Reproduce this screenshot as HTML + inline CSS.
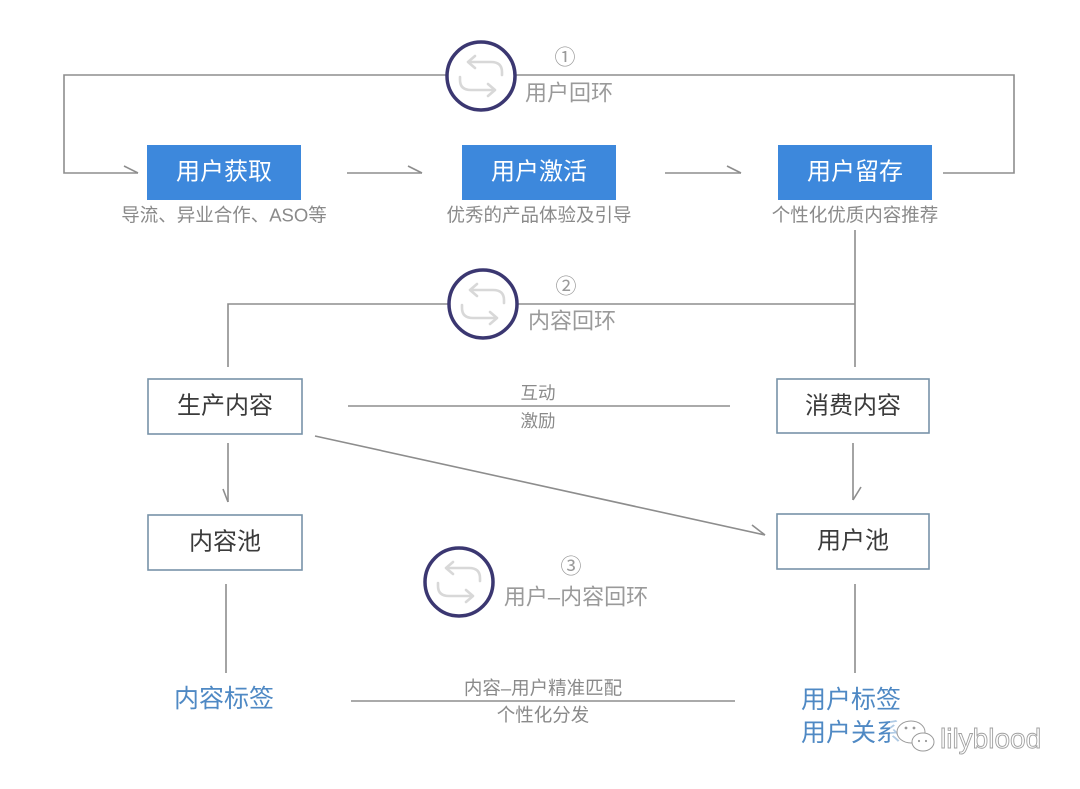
<!DOCTYPE html>
<html>
<head>
<meta charset="utf-8">
<style>
html,body{margin:0;padding:0;background:#ffffff;}
svg{display:block;}
text{font-family:"Liberation Sans","Noto Sans CJK SC",sans-serif;}
</style>
</head>
<body>
<svg width="1080" height="789" viewBox="0 0 1080 789" xmlns="http://www.w3.org/2000/svg">
<rect x="0" y="0" width="1080" height="789" fill="#ffffff"/>

<defs>
  <g id="loopicon" fill="none" stroke="#d8d8d8" stroke-width="2.6" stroke-linecap="round" stroke-linejoin="round">
    <path d="M -12 -14 L 10 -14 Q 21 -14 21 -4 L 21 -1"/>
    <path d="M -6 -20 L -13 -14 L -6 -8"/>
    <path d="M 13 14 L -10 14 Q -21 14 -21 4 L -21 1"/>
    <path d="M 7 8 L 14 14 L 7 20"/>
  </g>
</defs>

<g fill="none" stroke="#8d8d8d" stroke-width="1.6">
  <path d="M 138 173 L 64 173 L 64 75 L 1014 75 L 1014 173 L 943 173"/>
  <path d="M 124 166 L 138 173"/>
  <path d="M 347 173 L 422 173"/>
  <path d="M 408 166 L 422 173"/>
  <path d="M 665 173 L 741 173"/>
  <path d="M 727 166 L 741 173"/>
  <path d="M 855 230 L 855 367"/>
  <path d="M 228 367 L 228 304 L 855 304"/>
  <path d="M 348 406 L 730 406"/>
  <path d="M 228 443 L 228 502"/>
  <path d="M 223 489 L 228 502"/>
  <path d="M 853 443 L 853 500"/>
  <path d="M 861 487 L 853 500"/>
  <path d="M 315 436 L 765 535"/>
  <path d="M 752 525 L 765 535"/>
  <path d="M 226 584 L 226 673"/>
  <path d="M 855 584 L 855 673"/>
  <path d="M 351 701 L 735 701"/>
</g>

<rect x="147" y="145" width="154" height="55" fill="#3d88dc"/>
<rect x="462" y="145" width="154" height="55" fill="#3d88dc"/>
<rect x="778" y="145" width="154" height="55" fill="#3d88dc"/>
<g fill="#ffffff" font-size="24" text-anchor="middle" dominant-baseline="central">
  <text x="224" y="172">用户获取</text>
  <text x="539" y="172">用户激活</text>
  <text x="855" y="172">用户留存</text>
</g>
<g fill="#8a8a8a" font-size="18.5" text-anchor="middle" dominant-baseline="central">
  <text x="224" y="215">导流、异业合作、ASO等</text>
  <text x="539" y="215">优秀的产品体验及引导</text>
  <text x="855" y="215">个性化优质内容推荐</text>
</g>

<g fill="#ffffff" stroke="#7893a8" stroke-width="1.6">
  <rect x="148" y="379" width="154" height="55"/>
  <rect x="777" y="379" width="152" height="54"/>
  <rect x="148" y="515" width="154" height="55"/>
  <rect x="777" y="514" width="152" height="55"/>
</g>
<g fill="#3b3b3b" font-size="24" text-anchor="middle" dominant-baseline="central">
  <text x="225" y="406">生产内容</text>
  <text x="853" y="406">消费内容</text>
  <text x="225" y="542">内容池</text>
  <text x="853" y="541">用户池</text>
</g>

<g fill="#8a8a8a" text-anchor="middle" dominant-baseline="central">
  <text x="538" y="393" font-size="17.5">互动</text>
  <text x="538" y="421" font-size="17.5">激励</text>
  <text x="543" y="688" font-size="18.5">内容–用户精准匹配</text>
  <text x="543" y="715" font-size="18.5">个性化分发</text>
</g>

<g fill="#ffffff" stroke="#3b3771" stroke-width="3.5">
  <circle cx="481" cy="76" r="34"/>
  <circle cx="483" cy="304" r="34"/>
  <circle cx="459" cy="582" r="34"/>
</g>
<use href="#loopicon" x="481" y="76"/>
<use href="#loopicon" x="483" y="304"/>
<use href="#loopicon" x="459" y="582"/>

<g fill="#9a9a9a" text-anchor="middle" dominant-baseline="central">
  <text x="565" y="58" font-size="21">①</text>
  <text x="569" y="93" font-size="22">用户回环</text>
  <text x="566" y="287" font-size="21">②</text>
  <text x="572" y="321" font-size="22">内容回环</text>
  <text x="571" y="567" font-size="21">③</text>
  <text x="576" y="597" font-size="22">用户–内容回环</text>
</g>

<g fill="#4f89c4" font-size="25" dominant-baseline="central">
  <text x="224" y="699" text-anchor="middle">内容标签</text>
  <text x="801" y="700">用户标签</text>
  <text x="801" y="733">用户关系</text>
</g>

<rect x="890" y="716" width="165" height="40" fill="#ffffff" opacity="0.55"/>
<g fill="#ffffff" stroke="#9a9a9a" stroke-width="1">
  <ellipse cx="911" cy="732" rx="14" ry="11"/>
  <ellipse cx="923" cy="742" rx="11" ry="9"/>
</g>
<g fill="#9a9a9a">
  <circle cx="906" cy="728" r="1.4"/>
  <circle cx="914" cy="728" r="1.4"/>
  <circle cx="919" cy="741" r="1.1"/>
  <circle cx="926" cy="741" r="1.1"/>
</g>
<text x="940" y="748" font-size="28" fill="#ffffff" stroke="#a0a0a0" stroke-width="0.9">lilyblood</text>
</svg>
</body>
</html>
